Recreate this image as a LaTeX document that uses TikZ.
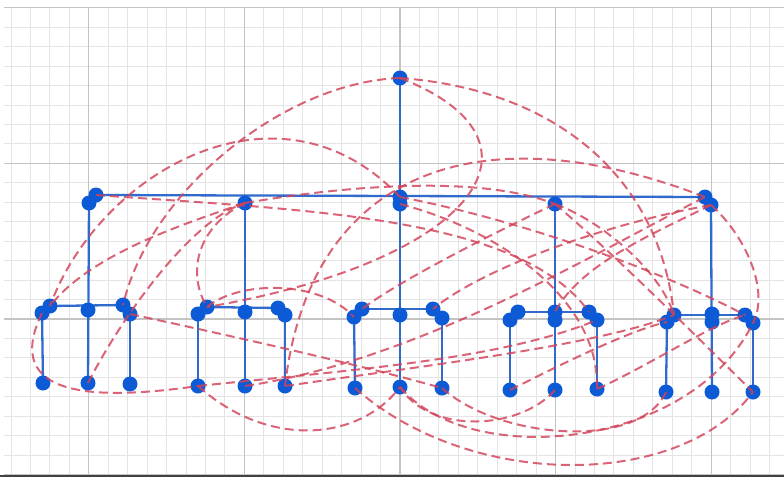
\documentclass[tikz,border=0pt]{standalone}
\usetikzlibrary{backgrounds}
\definecolor{dotblue}{RGB}{12,90,214}
\definecolor{treeblue}{RGB}{48,106,204}
\definecolor{linkred}{RGB}{210,66,88}
\definecolor{gridminor}{RGB}{228,228,228}
\definecolor{gridmajor}{RGB}{196,196,196}

\begin{document}
\begin{tikzpicture}[
    x=1pt, y=1pt,
    dot/.style={circle, fill=dotblue, inner sep=0pt, minimum size=15pt},
    tree/.style={draw=treeblue, line width=2.3pt},
    link/.style={draw=linkred, line width=2pt, dash pattern=on 9pt off 5pt, opacity=0.82}
]
\useasboundingbox (0,0) rectangle (784,-477);

\begin{pgfonlayer}{background}
\begin{scope}
\clip (4,-7) rectangle (784,-475);
\draw[gridminor, line width=1pt, shift={(400,-319)}] (-400,-175) grid[step=19.45] (400,330);
\draw[gridmajor, line width=1.3pt, shift={(400,-319)}] (-400,-175) grid[step=155.6] (400,330);
\end{scope}
\draw[black!75, line width=2pt] (0,-475.5) -- (784,-475.5);
\end{pgfonlayer}

\node[dot] (A) at (400,-78) {};

\node[dot] (b1) at (89,-203) {};
\node[dot] (b1u) at (96,-195) {};
\node[dot] (b2) at (245,-203) {};
\node[dot] (b3u) at (400,-197) {};
\node[dot] (b3) at (400,-204) {};
\node[dot] (b4) at (555,-204) {};
\node[dot] (b5u) at (705,-197) {};
\node[dot] (b5) at (711,-205) {};

\node[dot] (l1u) at (50,-306) {};
\node[dot] (l1) at (42,-313) {};
\node[dot] (m1) at (88,-310) {};
\node[dot] (r1u) at (123,-305) {};
\node[dot] (r1) at (130,-314) {};
\node[dot] (bl1) at (43,-383) {};
\node[dot] (bm1) at (88,-383) {};
\node[dot] (br1) at (130,-384) {};

\node[dot] (l2u) at (207,-307) {};
\node[dot] (l2) at (198,-314) {};
\node[dot] (m2) at (245,-312) {};
\node[dot] (r2u) at (278,-308) {};
\node[dot] (r2) at (285,-315) {};
\node[dot] (bl2) at (198,-386) {};
\node[dot] (bm2) at (245,-386) {};
\node[dot] (br2) at (285,-386) {};

\node[dot] (l3u) at (362,-309) {};
\node[dot] (l3) at (354,-317) {};
\node[dot] (m3) at (400,-315) {};
\node[dot] (r3u) at (433,-309) {};
\node[dot] (r3) at (442,-318) {};
\node[dot] (bl3) at (355,-388) {};
\node[dot] (bm3) at (400,-387) {};
\node[dot] (br3) at (442,-388) {};

\node[dot] (l4u) at (518,-312) {};
\node[dot] (l4) at (510,-320) {};
\node[dot] (m4u) at (555,-312) {};
\node[dot] (m4) at (555,-320) {};
\node[dot] (r4u) at (589,-312) {};
\node[dot] (r4) at (597,-320) {};
\node[dot] (bl4) at (510,-390) {};
\node[dot] (bm4) at (555,-390) {};
\node[dot] (br4) at (597,-389) {};

\node[dot] (l5u) at (674,-315) {};
\node[dot] (l5) at (667,-322) {};
\node[dot] (m5u) at (712,-314) {};
\node[dot] (m5) at (712,-322) {};
\node[dot] (r5u) at (745,-315) {};
\node[dot] (r5) at (753,-323) {};
\node[dot] (bl5) at (666,-392) {};
\node[dot] (bm5) at (712,-392) {};
\node[dot] (br5) at (753,-392) {};

\begin{pgfonlayer}{background}
\draw[tree] (A.center) -- (b3.center);
\draw[tree] (b1u.center) -- (b5u.center);
\draw[tree] (b1.center) -- (bm1.center);
\draw[tree] (b2.center) -- (bm2.center);
\draw[tree] (b3.center) -- (bm3.center);
\draw[tree] (b4.center) -- (bm4.center);
\draw[tree] (b5.center) -- (bm5.center);
\draw[tree] (l1u.center) -- (r1u.center);
\draw[tree] (l1.center) -- (bl1.center);
\draw[tree] (r1.center) -- (br1.center);
\draw[tree] (l2u.center) -- (r2u.center);
\draw[tree] (l2.center) -- (bl2.center);
\draw[tree] (r2.center) -- (br2.center);
\draw[tree] (l3u.center) -- (r3u.center);
\draw[tree] (l3.center) -- (bl3.center);
\draw[tree] (r3.center) -- (br3.center);
\draw[tree] (l4u.center) -- (r4u.center);
\draw[tree] (l4.center) -- (bl4.center);
\draw[tree] (r4.center) -- (br4.center);
\draw[tree] (l5u.center) -- (r5u.center);
\draw[tree] (l5.center) -- (bl5.center);
\draw[tree] (r5.center) -- (br5.center);
\end{pgfonlayer}

\draw[link] (A.center) .. controls (285,-82) and (150,-190) .. (r1u.center);
\draw[link] (b3u.center) .. controls (280,-70) and (100,-170) .. (l1u.center);
\draw[link] (A.center) .. controls (560,-90) and (660,-180) .. (l5u.center);
\draw[link] (A.center) .. controls (560,-140) and (480,-260) .. (l2u.center);
\draw[link] (b1u.center) .. controls (300,-210) and (520,-215) .. (r4u.center);
\draw[link] (b5u.center) .. controls (480,-110) and (310,-170) .. (br2.center);
\draw[link] (b2.center) .. controls (180,-225) and (90,-255) .. (l1u.center);
\draw[link] (b2.center) .. controls (200,-225) and (185,-270) .. (l2u.center);
\draw[link] (b2.center) .. controls (350,-185) and (480,-175) .. (b4.center);
\draw[link] (b3.center) .. controls (500,-230) and (600,-300) .. (br4.center);
\draw[link] (b4.center) .. controls (600,-220) and (660,-270) .. (l5u.center);
\draw[link] (b4.center) .. controls (500,-230) and (400,-280) .. (l3u.center);
\draw[link] (b5.center) .. controls (600,-225) and (480,-270) .. (r3u.center);
\draw[link] (b5.center) .. controls (650,-235) and (580,-265) .. (m4u.center);
\draw[link] (b5.center) .. controls (745,-235) and (770,-290) .. (r5.center);
\draw[link] (l1.center) .. controls (0,-400) and (100,-400) .. (bl2.center);
\draw[link] (bm1.center) .. controls (120,-320) and (190,-220) .. (b2.center);
\draw[link] (r1.center) .. controls (250,-340) and (360,-365) .. (br3.center);
\draw[link] (bl2.center) .. controls (270,-450) and (360,-440) .. (bm3.center);
\draw[link] (bl3.center) .. controls (470,-490) and (680,-490) .. (br5.center);
\draw[link] (bm3.center) .. controls (470,-470) and (690,-450) .. (r5.center);
\draw[link] (bl4.center) .. controls (560,-365) and (630,-330) .. (l5.center);
\draw[link] (br4.center) .. controls (650,-365) and (710,-325) .. (r5u.center);
\draw[link] (l2u.center) .. controls (240,-280) and (320,-280) .. (l3.center);
\draw[link] (bm2.center) .. controls (420,-360) and (600,-250) .. (b5u.center);
\draw[link] (br2.center) .. controls (430,-365) and (600,-345) .. (l5u.center);
\draw[link] (bm4.center) .. controls (520,-430) and (430,-435) .. (bm3.center);
\draw[link] (bl5.center) .. controls (640,-450) and (500,-440) .. (br3.center);
\draw[link] (b3u.center) .. controls (520,-220) and (660,-270) .. (r5u.center);
\draw[link] (b4.center) .. controls (610,-250) and (700,-340) .. (br5.center);
\draw[link] (bl2.center) .. controls (350,-370) and (500,-360) .. (r4.center);
\end{tikzpicture}
\end{document}
